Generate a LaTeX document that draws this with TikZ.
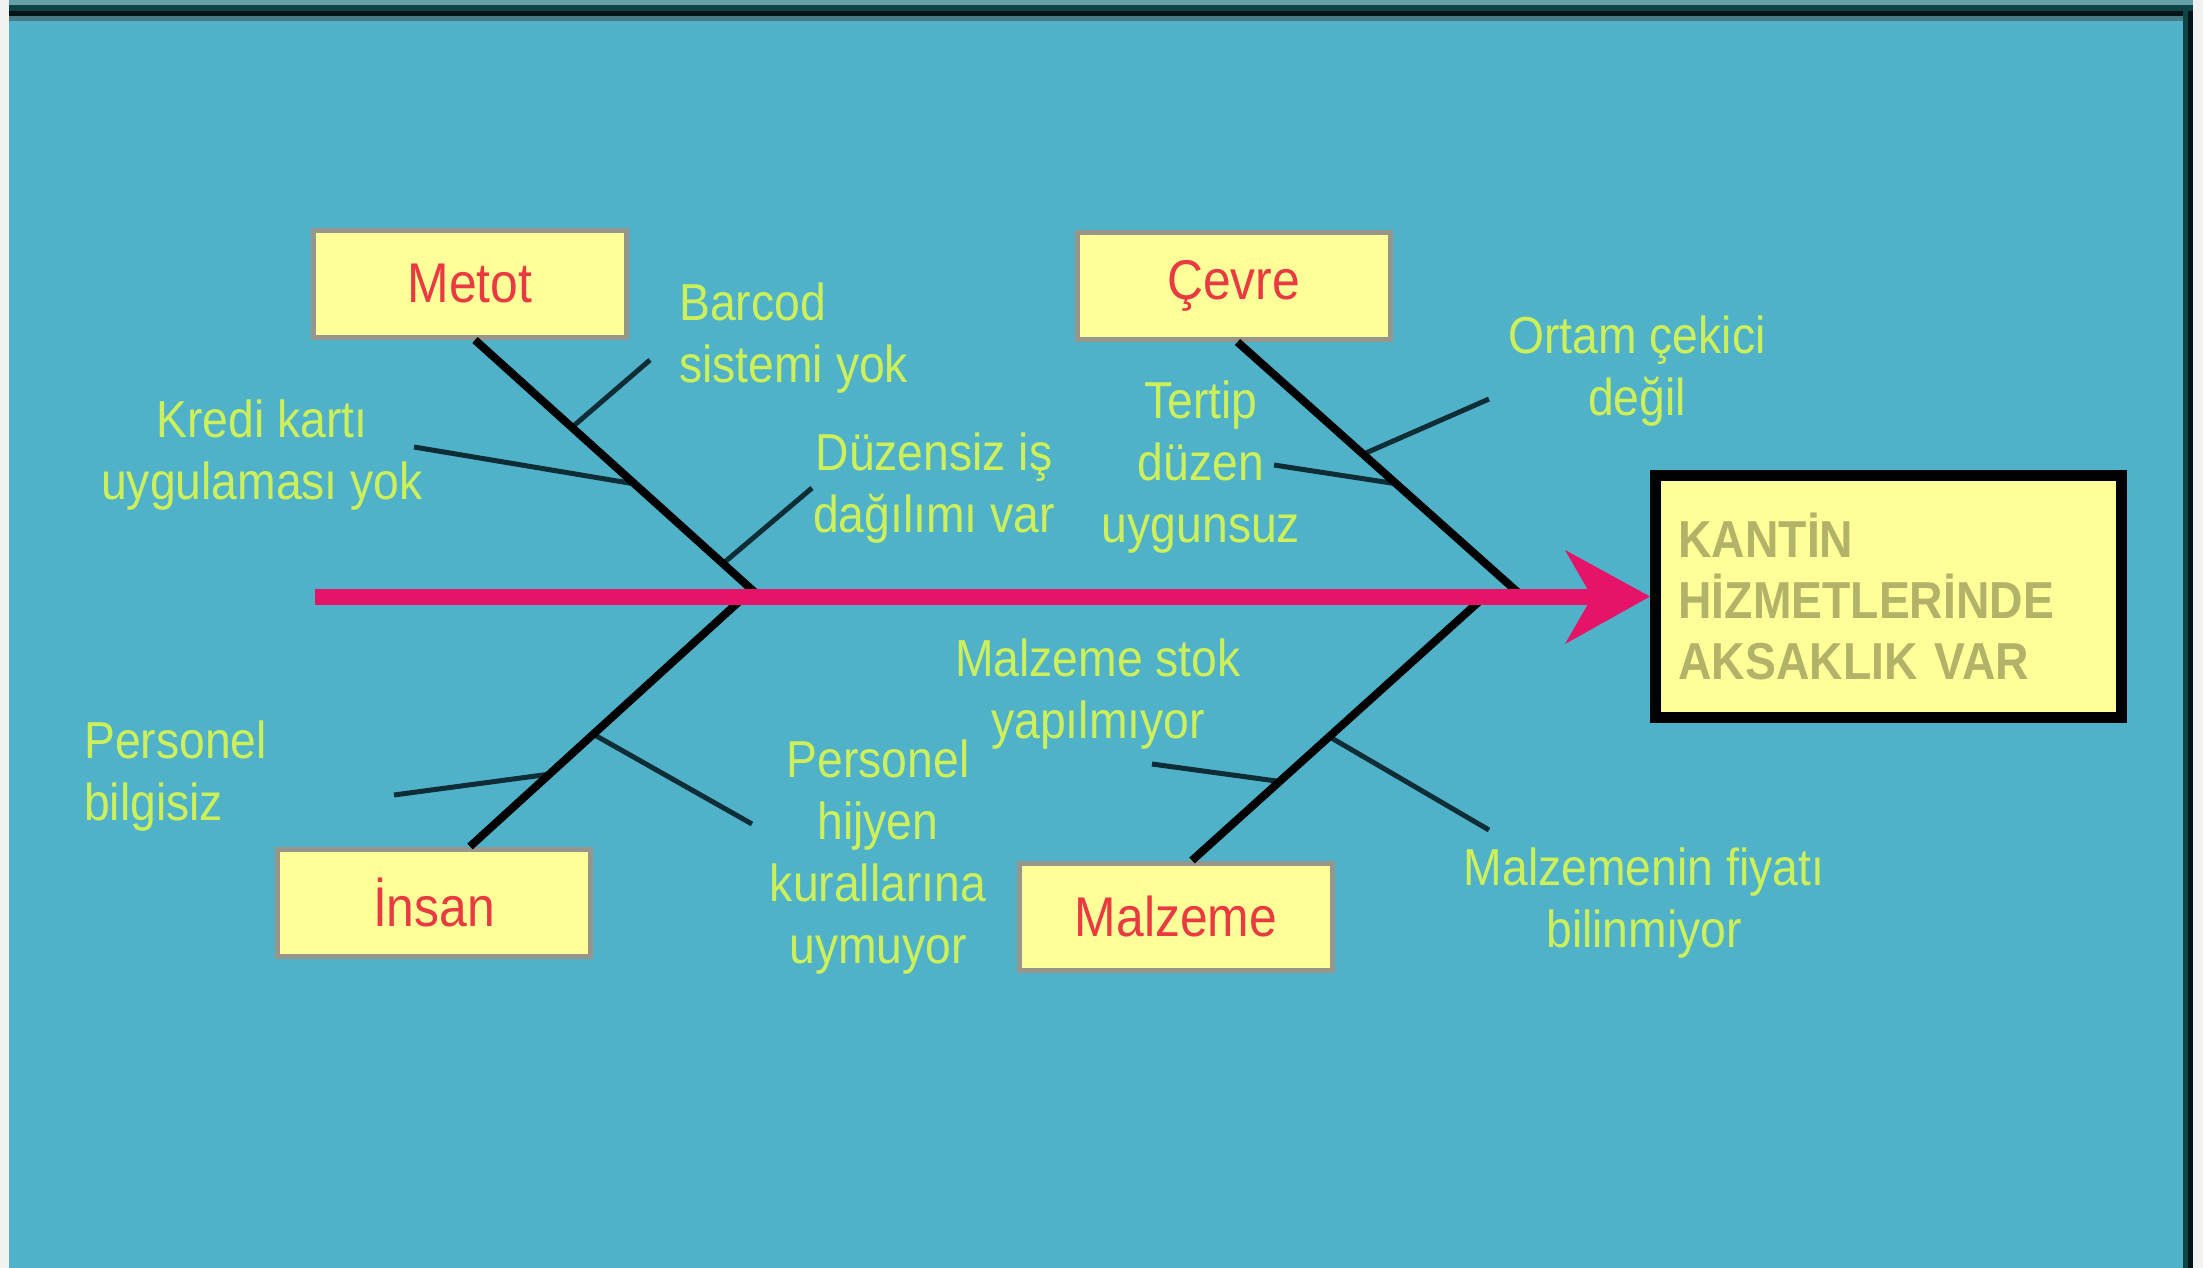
\documentclass[tikz,border=0pt]{standalone}
\usepackage{fontspec}
\setmainfont{Liberation Sans}
\newfontfamily\nf[FakeStretch=0.89]{Liberation Sans}
\usetikzlibrary{calc}
\definecolor{bg}{RGB}{80,178,200}
\definecolor{pagewhite}{RGB}{242,242,240}
\definecolor{topgray}{RGB}{100,160,168}
\definecolor{darkA}{RGB}{14,67,71}
\definecolor{darkB}{RGB}{4,21,24}
\definecolor{midband}{RGB}{70,122,133}
\definecolor{boxfill}{RGB}{255,255,153}
\definecolor{boxline}{RGB}{150,150,140}
\definecolor{catred}{RGB}{232,58,64}
\definecolor{labelgreen}{RGB}{205,240,90}
\definecolor{subdark}{RGB}{15,45,55}
\definecolor{spinecol}{RGB}{230,20,105}
\definecolor{effecttext}{RGB}{178,178,105}
\tikzset{
  catbox/.style={draw=boxline, line width=5pt, fill=boxfill, minimum width=313pt,
    minimum height=107pt, inner sep=0pt, font=\nf\fontsize{56}{60}\selectfont, text=catred},
  cause/.style={font=\nf\fontsize{52}{62}\selectfont, text=labelgreen, inner sep=0pt, align=center},
  bone/.style={line width=8pt, black},
  subbone/.style={line width=5pt, subdark},
}
\begin{document}
\begin{tikzpicture}[x=1pt,y=-1pt]
\useasboundingbox (0,0) rectangle (2203,1268);
% background and frame
\fill[pagewhite] (0,0) rectangle (2203,1268);
\fill[bg] (9,16) rectangle (2183,1268);
\fill[topgray] (9,0) rectangle (2193,5);
\fill[darkA] (9,5) rectangle (2193,11);
\fill[darkB] (9,11) rectangle (2193,16);
\fill[midband] (9,16) rectangle (2183,21);
\fill[darkA] (2183,11) rectangle (2188,1268);
\fill[darkB] (2188,11) rectangle (2193,1268);

% category boxes
\node[catbox] (metot) at (470,284) {Metot};
\node[catbox] (cevre) at (1233.5,286) {Çevre};
\node[catbox] (insan) at (434,902.5) {İnsan};
\node[catbox] (malzeme) at (1176,916.5) {Malzeme};

% effect box
\node[draw=black, line width=11pt, fill=boxfill, minimum width=466pt, minimum height=242pt,
  text width=420pt, align=left, inner sep=0pt,
  font=\nf\bfseries\fontsize{52}{61}\selectfont, text=effecttext] (effect) at (1888.5,596.5)
  {KANTİN\\HİZMETLERİNDE\\AKSAKLIK VAR};

% cause labels
\node[cause, anchor=west, align=left] (barcod) at (679,338) {Barcod\\sistemi yok};
\node[cause] (kredi) at (262,455) {Kredi kartı\\uygulaması yok};
\node[cause] (duzensiz) at (934,488) {Düzensiz iş\\dağılımı var};
\node[cause] (tertip) at (1201,467) {Tertip\\düzen\\uygunsuz};
\node[cause] (ortam) at (1637,371) {Ortam çekici\\değil};
\node[cause] (stok) at (1098,694) {Malzeme stok\\yapılmıyor};
\node[cause, anchor=west, align=left] (pbilgi) at (84,776) {Personel\\bilgisiz};
\node[cause] (hijyen) at (878,857) {Personel\\hijyen\\kurallarına\\uymuyor};
\node[cause] (fiyat) at (1644,903) {Malzemenin fiyatı\\bilinmiyor};

% spine points
\coordinate (tail) at (315,597);
\coordinate (notch) at (1592,597);
\coordinate (barbU) at (1565,550);
\coordinate (barbL) at (1565,644);
\coordinate (mbot) at (760,597);
\coordinate (cbot) at (1523,597);
\coordinate (itop) at (744,597);
\coordinate (ztop) at (1484,597);

% bone ends at boxes
\coordinate (mtop) at ($(metot.south)+(5,0)$);
\coordinate (ctop) at ($(cevre.south)+(4,0)$);
\coordinate (ibot) at ($(insan.north)+(36,0)$);
\coordinate (zbot) at ($(malzeme.north)+(16,0)$);

% junctions on bones
\coordinate (jbarcod) at ($(mtop)!0.34!(mbot)$);
\coordinate (jkredi) at ($(mtop)!0.56!(mbot)$);
\coordinate (jduz) at ($(mtop)!0.87!(mbot)$);
\coordinate (jortam) at ($(ctop)!0.44!(cbot)$);
\coordinate (jtertip) at ($(ctop)!0.556!(cbot)$);
\coordinate (jpbil) at ($(itop)!0.71!(ibot)$);
\coordinate (jhij) at ($(itop)!0.55!(ibot)$);
\coordinate (jstok) at ($(ztop)!0.70!(zbot)$);
\coordinate (jfiyat) at ($(ztop)!0.53!(zbot)$);

% free ends of sub-bones
\coordinate (ebarcod) at (650,360);
\coordinate (ekredi) at (414,447);
\coordinate (eduz) at (812,488);
\coordinate (eortam) at (1489,399);
\coordinate (etertip) at (1274,465);
\coordinate (epbil) at (394,795);
\coordinate (ehij) at (752,824);
\coordinate (estok) at (1152,764);
\coordinate (efiyat) at (1489,830);

% sub-bones
\draw[subbone] (jbarcod) -- (ebarcod);
\draw[subbone] (jkredi) -- (ekredi);
\draw[subbone] (jduz) -- (eduz);
\draw[subbone] (jortam) -- (eortam);
\draw[subbone] (jtertip) -- (etertip);
\draw[subbone] (jpbil) -- (epbil);
\draw[subbone] (jhij) -- (ehij);
\draw[subbone] (jstok) -- (estok);
\draw[subbone] (jfiyat) -- (efiyat);

% main bones
\draw[bone] (mtop) -- (mbot);
\draw[bone] (ctop) -- (cbot);
\draw[bone] (ibot) -- (itop);
\draw[bone] (zbot) -- (ztop);

% spine and arrowhead
\draw[spinecol, line width=16pt] (tail) -- (notch);
\fill[spinecol] (effect.west) -- (barbU) -- (notch) -- (barbL) -- cycle;
\end{tikzpicture}
\end{document}
